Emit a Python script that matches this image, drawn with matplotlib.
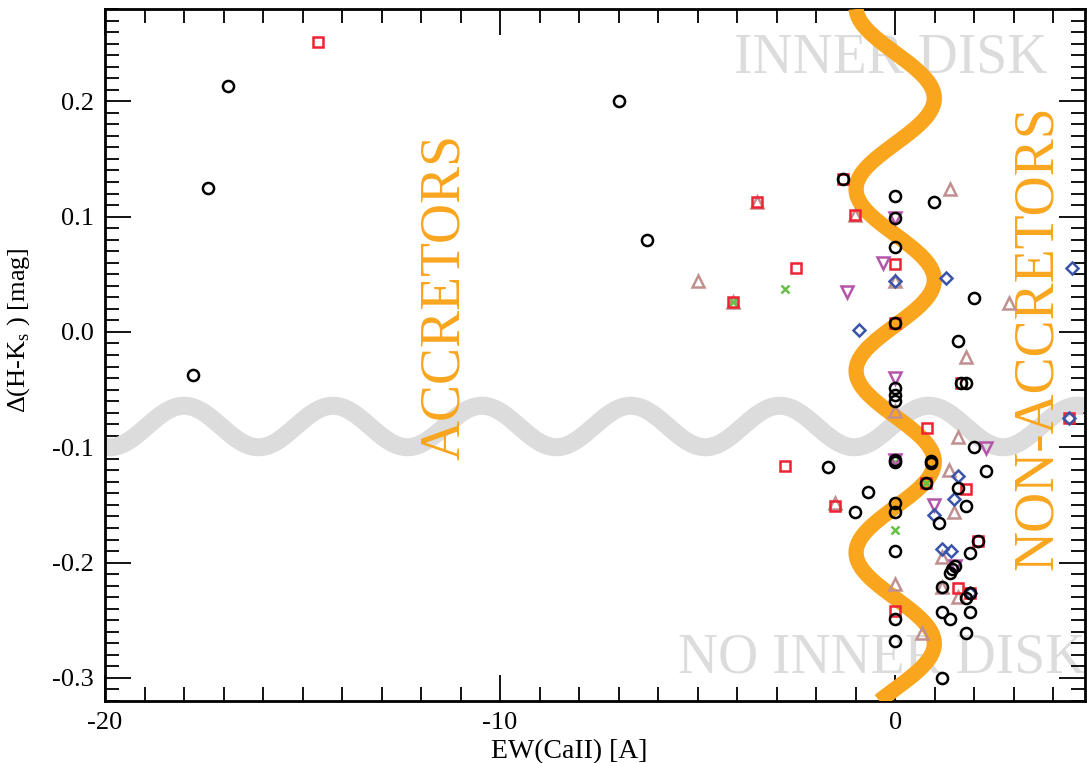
import numpy as np
import matplotlib
matplotlib.use("Agg")
import matplotlib.pyplot as plt
from matplotlib.ticker import MultipleLocator, FormatStrFormatter

plt.rcParams["font.family"] = ["Liberation Serif", "DejaVu Serif"]
plt.rcParams["mathtext.fontset"] = "custom"
plt.rcParams["mathtext.rm"] = "Liberation Serif"
plt.rcParams["axes.unicode_minus"] = False

# black circles
circ_x = [-17.78, -16.89, -17.4, -7.0, -6.29, -1.31, 0.0, 0.98, 0.0, 0.0, 2.0, 0.0,
          1.59, 1.67, 1.79, 0.0, 0.0, 0.0, 2.0, -1.69, 0.0, 0.0, 0.91, 0.91, 0.78,
          2.3, 1.59, -0.7, 1.79, -1.01, 0.0, 0.0, 1.11, 0.0, 1.9, 2.1, 1.52, 1.45,
          1.39, 1.19, 1.9, 1.79, 0.0, 1.19, 1.39, 1.9, 1.79, 0.0, 1.19]
circ_y = [-0.037, 0.213, 0.125, 0.200, 0.080, 0.133, 0.118, 0.113, 0.099, 0.074, 0.029, 0.008,
          -0.008, -0.044, -0.044, -0.049, -0.055, -0.060, -0.100, -0.117, -0.111, -0.113, -0.112, -0.114, -0.131,
          -0.121, -0.135, -0.139, -0.151, -0.156, -0.148, -0.156, -0.166, -0.190, -0.192, -0.181, -0.203, -0.206,
          -0.209, -0.221, -0.226, -0.231, -0.249, -0.243, -0.249, -0.243, -0.261, -0.268, -0.300]

# red squares
sq_x = [-14.6, -3.51, -1.31, -1.01, -4.11, -2.5, 0.0, 0.0, 0.8, 4.39, 1.67, -2.8,
        0.78, 1.8, -1.52, 2.1, 1.59, 0.0, 1.9]
sq_y = [0.251, 0.113, 0.133, 0.101, 0.026, 0.055, 0.059, 0.008, -0.083, -0.075, -0.044, -0.116,
        -0.131, -0.136, -0.151, -0.181, -0.222, -0.242, -0.226]

# rosy up-triangles
tup_x = [1.39, -1.01, -3.51, -5.0, -4.11, 0.0, 2.88, 1.79, 0.0, 1.59, 1.36, -1.52,
         1.49, 1.19, 0.0, 1.19, 1.59, 0.68]
tup_y = [0.124, 0.101, 0.113, 0.044, 0.026, 0.044, 0.025, -0.022, -0.069, -0.091, -0.120, -0.148,
         -0.156, -0.195, -0.219, -0.221, -0.230, -0.261]

# magenta down-triangles
tdn_x = [0.0, -0.3, -1.21, 0.0, 2.3, 0.0, 0.98, 1.52]
tdn_y = [0.099, 0.060, 0.035, -0.040, -0.101, -0.111, -0.150, -0.203]

# blue diamonds
dia_x = [0.0, 1.29, -0.91, 4.47, 4.39, 1.59, 1.49, 0.98, 1.19, 1.41, 1.9]
dia_y = [0.044, 0.047, 0.002, 0.055, -0.075, -0.125, -0.145, -0.159, -0.188, -0.190, -0.226]

# green crosses
crs_x = [-2.8, -4.11, 0.0, 0.78, 0.0]
crs_y = [0.037, 0.026, -0.113, -0.131, -0.172]

# wavy dividers: centre, amplitude, period, phase reference
gray_c, gray_a, gray_p, gray_x0 = -0.082, 0.018, 3.77, -18.0
orng_c, orng_a, orng_p, orng_y0 = 0.0, 0.99, 0.1576, 0.045

fig = plt.figure(figsize=(10.87, 7.63), dpi=100)
ax = fig.add_axes([0.0966, 0.0813, 0.9014, 0.9069])

ax.text(-4.07, 0.237, "INNER DISK", color="#dcdcdc", fontsize=40, ha="left", va="center", zorder=1)
ax.text(-5.5, -0.283, "NO INNER DISK", color="#dcdcdc", fontsize=40, ha="left", va="center", zorder=1)

gx = np.linspace(-20, 4.8, 600)
ax.plot(gx, gray_c + gray_a * np.cos(2 * np.pi * (gx - gray_x0) / gray_p),
        color="#dcdcdc", lw=13, solid_capstyle="butt", zorder=2)

oy = np.linspace(-0.32, 0.28, 600)
ax.plot(orng_c + orng_a * np.cos(2 * np.pi * (oy - orng_y0) / orng_p), oy,
        color="#f9a51e", lw=11, solid_capstyle="butt", zorder=3)

ax.text(-11.4, 0.03, "ACCRETORS", color="#f9a51e", fontsize=40, rotation=90,
        ha="center", va="center", zorder=4)
ax.text(3.62, -0.005, "NON-ACCRETORS", color="#f9a51e", fontsize=40, rotation=90,
        ha="center", va="center", zorder=4)

mk = dict(ls="none", mfc="none", zorder=5)
ax.plot(tup_x, tup_y, marker="^", ms=8.5, mec="#c09090", mew=1.8, **mk)
ax.plot(crs_x, crs_y, marker="x", ms=6, mec="#66c044", mew=1.8, **mk)
ax.plot(sq_x, sq_y, marker="s", ms=7, mec="#ee2233", mew=1.8, **mk)
ax.plot(tdn_x, tdn_y, marker="v", ms=8.5, mec="#b455aa", mew=1.8, **mk)
ax.plot(dia_x, dia_y, marker="D", ms=6.5, mec="#3a55a8", mew=1.8, **mk)
ax.plot(circ_x, circ_y, marker="o", ms=8, mec="black", mew=1.8, **mk)

ax.set_xlim(-20, 4.8)
ax.set_ylim(-0.32, 0.28)
ax.xaxis.set_major_locator(MultipleLocator(10))
ax.xaxis.set_minor_locator(MultipleLocator(1))
ax.yaxis.set_major_locator(MultipleLocator(0.1))
ax.yaxis.set_minor_locator(MultipleLocator(0.01))
ax.yaxis.set_major_formatter(FormatStrFormatter("%.1f"))
ax.tick_params(which="both", direction="in", top=True, right=True, labelsize=19, width=1.3)
ax.tick_params(which="major", length=19, pad=8)
ax.tick_params(which="minor", length=10)
for s in ax.spines.values():
    s.set_linewidth(2)

ax.set_xlabel("EW(CaII) [A]", fontsize=20, labelpad=2)
ax.set_ylabel("$\\Delta$(H-K$_{\\rm s}$ ) [mag]", fontsize=19)
ax.xaxis.set_label_coords(0.474, -0.055)
ax.yaxis.set_label_coords(-0.075, 0.536)

fig.savefig("out.png", dpi=100)
